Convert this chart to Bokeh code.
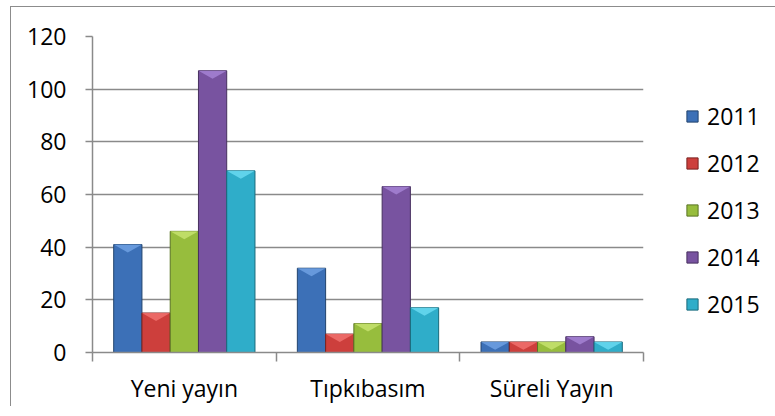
from bokeh.plotting import figure
from bokeh.models import FixedTicker, Legend, LegendItem, Range1d, ColumnDataSource
from bokeh.embed import file_html
from bokeh.resources import INLINE

categories = ["Yeni yayın", "Tıpkıbasım", "Süreli Yayın"]
years = ["2011", "2012", "2013", "2014", "2015"]
values_2011 = [41, 32, 4]
values_2012 = [15, 7, 4]
values_2013 = [46, 11, 4]
values_2014 = [107, 63, 6]
values_2015 = [69, 17, 4]
y_ticks = [0, 20, 40, 60, 80, 100, 120]

series = [values_2011, values_2012, values_2013, values_2014, values_2015]
colors = ["#3c70b7", "#cd3f3c", "#97bd3d", "#7853a0", "#2fadc9"]
lights = ["#6c9de0", "#ee6e6a", "#c3e06c", "#a27fd0", "#66d7ee"]
edges = ["#22446e", "#7a2220", "#5a7424", "#47305f", "#1a6a7c"]

FONT = "Open Sans"
GRID = "#8a8a8a"

p = figure(frame_width=551, frame_height=316,
           x_range=Range1d(0, len(categories)), y_range=Range1d(0, 120),
           output_backend="svg", toolbar_location=None,
           min_border_left=81, min_border_top=29,
           min_border_right=129, min_border_bottom=54)
p.styles = {"border-left": "1px solid #8c8c8c", "border-top": "1px solid #8c8c8c",
            "margin-left": "10px", "margin-top": "6px"}
p.outline_line_color = None
p.background_fill_color = "white"
p.border_fill_color = "white"

w = 1 / 6.5
cap = 3.0  # depth of the bevel highlight, in data units
items = []
for i, (yr, vals) in enumerate(zip(years, series)):
    xs = [c + 0.5 + (i - 2) * w for c in range(len(categories))]
    src = ColumnDataSource(dict(x=xs, top=vals))
    r = p.vbar(x="x", top="top", bottom=0, width=w, source=src,
               fill_color=colors[i], line_color=edges[i], line_width=1)
    tri_x = [[x - w / 2, x + w / 2, x] for x in xs]
    tri_y = [[v, v, v - cap] for v in vals]
    p.patches(tri_x, tri_y, fill_color=lights[i], line_color=None, fill_alpha=0.9)
    items.append(LegendItem(label=yr, renderers=[r]))

# y axis
yax = p.yaxis[0]
yax.ticker = FixedTicker(ticks=y_ticks)
yax.axis_line_color = GRID
yax.axis_line_width = 1.5
yax.major_tick_line_color = GRID
yax.major_tick_line_width = 1.5
yax.major_tick_in = 0
yax.major_tick_out = 7
yax.minor_tick_line_color = None
yax.major_label_text_font = FONT
yax.major_label_text_font_size = "23px"
yax.major_label_text_color = "#000000"
yax.major_label_standoff = 19

# x axis
xax = p.xaxis[0]
centers = [c + 0.5 for c in range(len(categories))]
xax.ticker = FixedTicker(ticks=centers, minor_ticks=list(range(len(categories) + 1)))
xax.major_label_overrides = {c: lab for c, lab in zip(centers, categories)}
xax.axis_line_color = GRID
xax.axis_line_width = 1.5
xax.major_tick_line_color = None
xax.major_tick_in = 0
xax.major_tick_out = 0
xax.minor_tick_line_color = GRID
xax.minor_tick_line_width = 1.5
xax.minor_tick_in = 0
xax.minor_tick_out = 9
xax.major_label_text_font = FONT
xax.major_label_text_font_size = "23px"
xax.major_label_text_color = "#000000"
xax.major_label_standoff = 10

p.xgrid.grid_line_color = None
p.ygrid.ticker = FixedTicker(ticks=y_ticks)
p.ygrid.grid_line_color = GRID
p.ygrid.grid_line_width = 1.5

legend = Legend(items=items, location=(42, 32),
                glyph_width=14, glyph_height=14, label_standoff=8,
                label_text_font=FONT, label_text_font_size="23px",
                label_text_color="#000000", spacing=15,
                padding=0, margin=0, border_line_color=None,
                background_fill_alpha=0)
p.add_layout(legend, "right")

open("out.html", "w").write(file_html(p, INLINE))
